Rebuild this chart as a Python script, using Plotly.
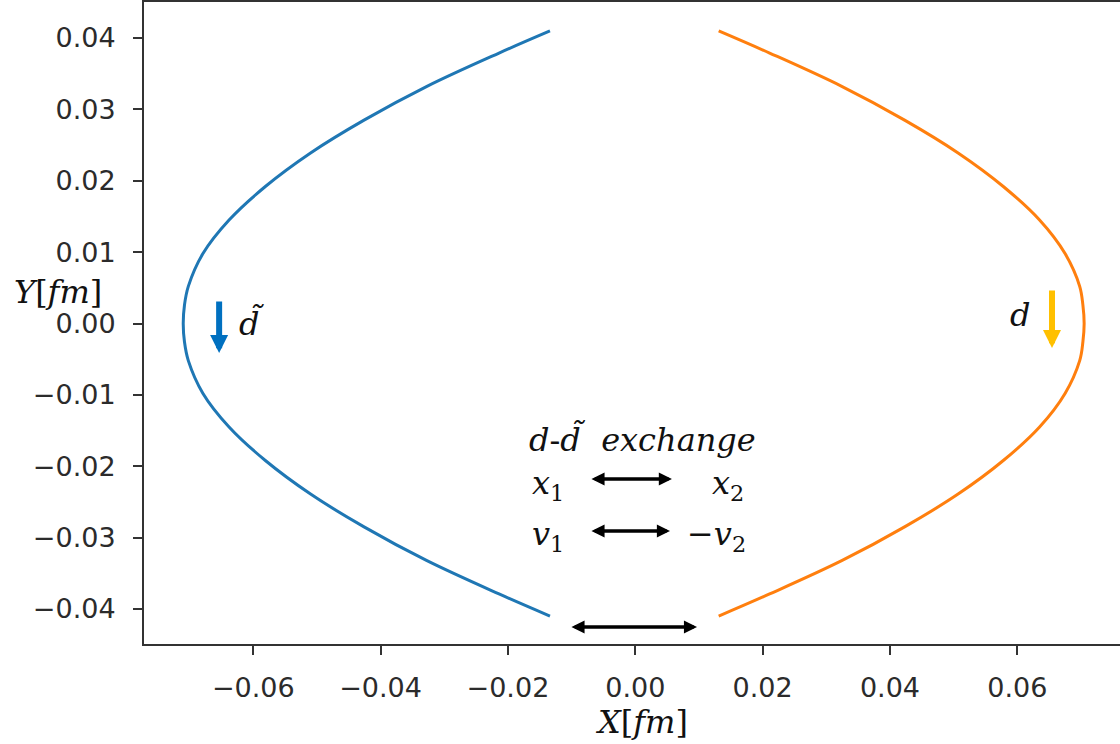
import plotly.graph_objects as go

# Trajectories of the two particles (positions in fm)
y_path = [0.0410, 0.0379, 0.0332, 0.0285, 0.0239, 0.0192, 0.0145, 0.0098, 0.0052, 0.0026, 0.0,
          -0.0026, -0.0052, -0.0098, -0.0145, -0.0192, -0.0239, -0.0285, -0.0332, -0.0379, -0.0410]
x_dbar = [-0.0134, -0.0214, -0.0328, -0.0426, -0.0510, -0.0581, -0.0638, -0.0679, -0.0702, -0.0708, -0.0710,
          -0.0708, -0.0702, -0.0679, -0.0638, -0.0581, -0.0510, -0.0426, -0.0328, -0.0214, -0.0134]
x_d = [0.0131, 0.0211, 0.0325, 0.0423, 0.0507, 0.0578, 0.0635, 0.0675, 0.0698, 0.0703, 0.0705,
       0.0703, 0.0698, 0.0675, 0.0635, 0.0578, 0.0507, 0.0423, 0.0325, 0.0211, 0.0131]

x_ticks = [-0.06, -0.04, -0.02, 0.0, 0.02, 0.04, 0.06]
x_tick_text = ["\u22120.06", "\u22120.04", "\u22120.02", "0.00", "0.02", "0.04", "0.06"]
y_ticks = [0.04, 0.03, 0.02, 0.01, 0.0, -0.01, -0.02, -0.03, -0.04]
y_tick_text = ["0.04", "0.03", "0.02", "0.01", "0.00",
               "\u22120.01", "\u22120.02", "\u22120.03", "\u22120.04"]

AX = "#333333"
SERIF = "DejaVu Serif"

fig = go.Figure()
fig.add_trace(go.Scatter(x=x_dbar, y=y_path, mode="lines",
                         line=dict(color="#1f77b4", width=3, shape="spline", smoothing=1),
                         showlegend=False, hoverinfo="skip"))
fig.add_trace(go.Scatter(x=x_d, y=y_path, mode="lines",
                         line=dict(color="#ff7f0e", width=3, shape="spline", smoothing=1),
                         showlegend=False, hoverinfo="skip"))

axis_common = dict(showgrid=False, zeroline=False, showline=True, linecolor=AX, linewidth=2,
                   ticks="outside", ticklen=9, tickwidth=2, tickcolor=AX,
                   tickfont=dict(family="DejaVu Sans", size=27, color="#2b2b2b"))

fig.update_xaxes(range=[-0.07716, 0.07613], tickvals=x_ticks, ticktext=x_tick_text,
                 mirror=True, ticklabelstandoff=10, **axis_common)
fig.update_yaxes(range=[-0.04491, 0.04505], tickvals=y_ticks, ticktext=y_tick_text,
                 ticklabelstandoff=12, **axis_common)


def math_text(text, x, y, xanchor="center", size=32, xref="x", yref="y"):
    fig.add_annotation(text=text, x=x, y=y, xref=xref, yref=yref, xanchor=xanchor,
                       yanchor="middle", showarrow=False,
                       font=dict(family=SERIF, size=size, color="#111111"))


def arrow(x0, y0, x1, y1, color, width, size, both=False):
    fig.add_annotation(x=x1, y=y1, ax=x0, ay=y0, xref="x", yref="y", axref="x", ayref="y",
                       text="", showarrow=True, arrowhead=2, arrowsize=size,
                       arrowwidth=width, arrowcolor=color,
                       arrowside="end+start" if both else "end")


# motion markers next to each trajectory
arrow(-0.06536, 0.00329, -0.06536, -0.00413, "#0070c0", 6, 0.6)
arrow(0.06545, 0.00483, 0.06545, -0.00343, "#ffc000", 6, 0.6)
math_text("<i>d\u0303</i>", -0.0602, 0.0, xanchor="center")
math_text("<i>d</i>", 0.0604, 0.0012, xanchor="center")

# exchange relations
math_text("<i>d</i>-<i>d\u0303</i>  <i>exchange</i>", 0.0012, -0.0162)
math_text("<i>x</i><sub>1</sub>", -0.0165, -0.0226, xanchor="left")
math_text("<i>x</i><sub>2</sub>", 0.0118, -0.0226, xanchor="left")
math_text("<i>v</i><sub>1</sub>", -0.0165, -0.0298, xanchor="left")
math_text("\u2212<i>v</i><sub>2</sub>", 0.0078, -0.0298, xanchor="left")
arrow(-0.00712, -0.02179, 0.00576, -0.02179, "#000000", 3.5, 0.75, both=True)
arrow(-0.00712, -0.02907, 0.00545, -0.02907, "#000000", 3.5, 0.75, both=True)
arrow(-0.01026, -0.04253, 0.00970, -0.04253, "#000000", 3.5, 0.75, both=True)

# axis titles
math_text("<i>Y</i>[<i>fm</i>]", -0.1352, 0.548, xanchor="left", size=32,
          xref="paper", yref="paper")
math_text("<i>X</i>[<i>fm</i>]", 0.5102, -0.1215, xanchor="center", size=32,
          xref="paper", yref="paper")

fig.update_layout(width=1120, height=744, margin=dict(l=144, r=0, t=2, b=100),
                  plot_bgcolor="white", paper_bgcolor="white")

fig.write_html("out.html")
